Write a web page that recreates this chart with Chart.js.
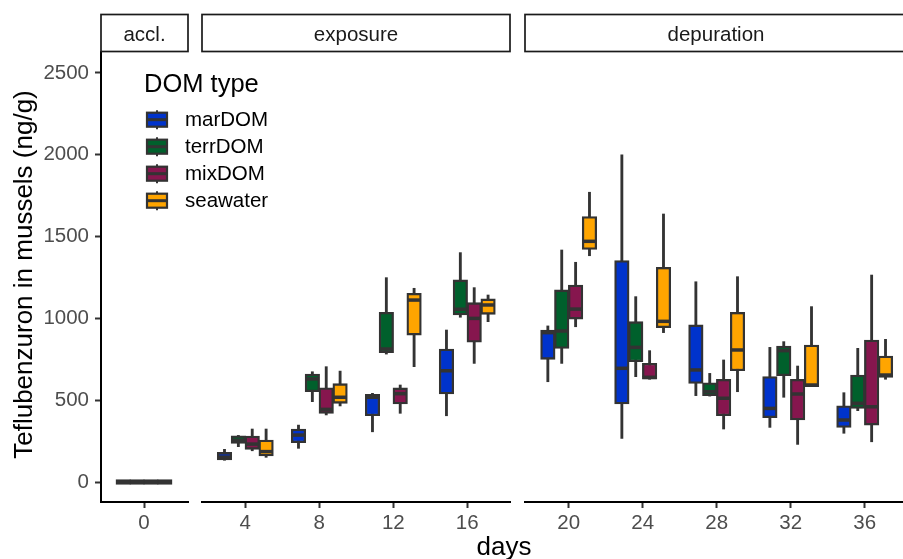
<!DOCTYPE html>
<html><head><meta charset="utf-8">
<script src="https://cdn.jsdelivr.net/npm/chart.js@4.4.1/dist/chart.umd.min.js"></script>
<style>
html,body{margin:0;padding:0;background:#fff;overflow:hidden}
#wrap{position:relative;width:903px;height:559px}
canvas{position:absolute;left:0;top:0}
</style></head><body>
<div id="wrap">
<canvas id="c1" width="903" height="559"></canvas>
<canvas id="c2" width="903" height="559"></canvas>
<canvas id="c3" width="903" height="559"></canvas>
</div>
<script>
// ---- data ----
const acclDays = [0];
const exposureDays = [4, 8, 12, 16];
const depurationDays = [20, 24, 28, 32, 36];
const panelNames = ['accl.', 'exposure', 'depuration'];
const domTypes = ['marDOM', 'terrDOM', 'mixDOM', 'seawater'];
const yTicks = [0, 500, 1000, 1500, 2000, 2500];
// per day: [lowerWhisker, q1, median, q3, upperWhisker]
const marDOM = [[0,0,0,0,0],[133,135,152,181,200],[206,240,287,324,348],[307,405,518,536,542],[405,538,680,813,929],
  [613,750,913,929,954],[267,477,695,1353,1999],[528,603,685,960,1224],[334,393,450,644,823],[298,334,379,466,546]];
const terrDOM = [[0,0,0,0,0],[216,236,255,283,285],[491,552,630,660,674],[782,790,813,1037,1249],[1007,1021,1056,1235,1402],
  [725,817,923,1174,1418],[644,735,823,980,1133],[525,528,552,607,664],[518,650,803,831,858],[436,450,481,654,817]];
const mixDOM = [[0,0,0,0,0],[191,200,232,281,324],[410,420,444,576,705],[420,477,540,575,593],[725,854,1000,1096,1188],
  [949,996,1057,1204,1343],[628,628,640,726,803],[324,405,512,628,746],[230,379,538,628,709],[246,348,460,868,1265]];
const seawater = [[0,0,0,0,0],[151,159,186,257,324],[465,481,518,601,678],[705,898,1112,1153,1184],[980,1025,1082,1119,1143],
  [1383,1422,1471,1622,1771],[913,943,982,1312,1638],[552,680,807,1037,1255],[583,583,593,837,1072],[628,640,654,770,872]];
const allDays = [0, 4, 8, 12, 16, 20, 24, 28, 32, 36];

// ---- style ----
const seriesStats = [marDOM, terrDOM, mixDOM, seawater];
const colors = ['#0033CC', '#00602C', '#86164E', '#FFA500'];
const FONT = "'Liberation Sans', Arial, Helvetica, sans-serif";
const DARK = '#333333';
const dodge = 0.75;
const Y_MIN = -122, Y_MAX = 2628;

const panelLayout = [
  { days: acclDays, xmin: -2.324, xmax: 2.378, left: 101, right: 188, showY: true },
  { days: exposureDays, xmin: 1.659, xmax: 18.31, left: 202, right: 510, showY: false },
  { days: depurationDays, xmin: 17.64, xmax: 38.07, left: 525, right: 903, showY: false }
];

const medianPlugin = {
  id: 'medians',
  afterDatasetsDraw(chart) {
    const ctx = chart.ctx, ys = chart.scales.y;
    ctx.save();
    ctx.beginPath();
    ctx.rect(chart.chartArea.left, chart.chartArea.top, chart.chartArea.right - chart.chartArea.left, chart.chartArea.bottom - chart.chartArea.top);
    ctx.clip();
    chart.data.datasets.forEach((ds, i) => {
      if (!ds.medians) return;
      const meta = chart.getDatasetMeta(i);
      meta.data.forEach((el, j) => {
        const p = el.getProps(['x', 'width'], true);
        const py = ys.getPixelForValue(ds.medians[j]);
        ctx.strokeStyle = DARK; ctx.lineWidth = 3.5;
        ctx.beginPath(); ctx.moveTo(p.x - p.width / 2 + 1, py); ctx.lineTo(p.x + p.width / 2 - 1, py); ctx.stroke();
      });
    });
    ctx.restore();
  }
};

const decorPlugin = {
  id: 'decor',
  afterDraw(chart) {
    const ctx = chart.ctx;
    ctx.save();
    // strips
    panelLayout.forEach((p, i) => {
      ctx.fillStyle = '#fff'; ctx.strokeStyle = '#1A1A1A'; ctx.lineWidth = 1.7;
      ctx.fillRect(p.left, 14.5, p.right - p.left + (i === 2 ? 10 : 0), 37);
      ctx.strokeRect(p.left, 14.5, p.right - p.left + (i === 2 ? 10 : 0), 37);
      ctx.fillStyle = '#1A1A1A'; ctx.font = '20.5px ' + FONT; ctx.textAlign = 'center'; ctx.textBaseline = 'alphabetic';
      const cx = i === 2 ? (p.left + 907) / 2 : (p.left + p.right) / 2;
      ctx.fillText(panelNames[i], cx, 40.5);
    });
    // axis titles
    ctx.fillStyle = '#000'; ctx.font = '26px ' + FONT; ctx.textAlign = 'center'; ctx.textBaseline = 'alphabetic';
    ctx.fillText('days', 504, 555);
    ctx.save(); ctx.translate(32, 274.5); ctx.rotate(-Math.PI / 2);
    ctx.fillText('Teflubenzuron in mussels (ng/g)', 0, 0); ctx.restore();
    // legend
    ctx.textAlign = 'left'; ctx.font = '25.5px ' + FONT; ctx.fillStyle = '#000';
    ctx.fillText('DOM type', 144, 91.5);
    domTypes.forEach((name, i) => {
      const cy = 119.7 + i * 27;
      ctx.strokeStyle = DARK; ctx.lineWidth = 2;
      ctx.beginPath(); ctx.moveTo(157, cy - 9.5); ctx.lineTo(157, cy + 9.5); ctx.stroke();
      ctx.fillStyle = colors[i]; ctx.fillRect(147, cy - 7, 20, 14);
      ctx.lineWidth = 2.2; ctx.strokeRect(147, cy - 7, 20, 14);
      ctx.lineWidth = 3; ctx.beginPath(); ctx.moveTo(147, cy); ctx.lineTo(167, cy); ctx.stroke();
      ctx.fillStyle = '#000'; ctx.font = '20.5px ' + FONT; ctx.textBaseline = 'middle';
      ctx.fillText(name, 185, cy + 0.5);
      ctx.textBaseline = 'alphabetic';
    });
    ctx.restore();
  }
};

function buildDatasets(days) {
  const idx = days.map(d => allDays.indexOf(d));
  const boxes = [], whiskers = [];
  seriesStats.forEach((stats, s) => {
    const off = (s - 1.5) * dodge;
    boxes.push({
      label: domTypes[s],
      data: idx.map((k, j) => ({ x: days[j] + off, y: [stats[k][1], stats[k][3]] })),
      medians: idx.map(k => stats[k][2]),
      backgroundColor: colors[s], borderColor: DARK, borderWidth: 2.3, borderSkipped: false,
      barThickness: 14.5, minBarLength: 5, grouped: false, order: 0
    });
    whiskers.push({
      label: domTypes[s] + ' whisker',
      data: idx.map((k, j) => ({ x: days[j] + off, y: [stats[k][0], stats[k][4]] })),
      backgroundColor: DARK, borderWidth: 0, barThickness: 2.2, grouped: false, order: 1
    });
  });
  return boxes.concat(whiskers);
}

panelLayout.forEach((p, i) => {
  const plugins = [medianPlugin];
  if (i === 0) plugins.push(decorPlugin);
  new Chart(document.getElementById('c' + (i + 1)), {
    type: 'bar',
    data: { datasets: buildDatasets(p.days) },
    plugins,
    options: {
      responsive: false, animation: false, events: [],
      layout: { padding: { left: p.showY ? 0 : p.left, right: 903 - p.right, top: 52, bottom: 0 } },
      plugins: { legend: { display: false }, tooltip: { enabled: false } },
      scales: {
        x: {
          type: 'linear', min: p.xmin, max: p.xmax, offset: false,
          afterBuildTicks: s => { s.ticks = p.days.map(v => ({ value: v })); },
          afterFit: s => { s.height = 57; },
          grid: { display: true, drawOnChartArea: false, drawTicks: true, tickLength: 6, tickColor: DARK, tickWidth: 2, offset: false },
          border: { display: true, color: '#000', width: 2 },
          ticks: { color: '#4D4D4D', font: { family: FONT, size: 20.5 }, padding: 3, maxRotation: 0, autoSkip: false,
                   callback: v => String(v) }
        },
        y: {
          type: 'linear', display: p.showY, min: Y_MIN, max: Y_MAX,
          afterBuildTicks: s => { s.ticks = yTicks.map(v => ({ value: v })); },
          afterFit: s => { s.width = p.showY ? 101 : 0; },
          grid: { display: true, drawOnChartArea: false, drawTicks: true, tickLength: 6, tickColor: DARK, tickWidth: 2 },
          border: { display: true, color: '#000', width: 2 },
          ticks: { color: '#4D4D4D', font: { family: FONT, size: 20.5 }, padding: 6, callback: v => String(v) }
        }
      }
    }
  });
});
</script>
</body></html>
